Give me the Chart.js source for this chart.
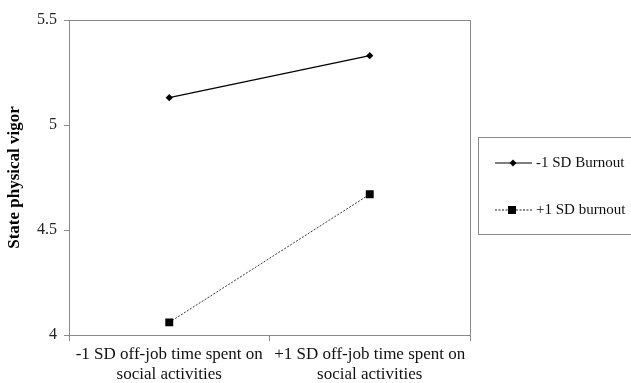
<!DOCTYPE html>
<html><head><meta charset="utf-8">
<script src="https://cdn.jsdelivr.net/npm/chart.js@4/dist/chart.umd.min.js"></script>
<style>html,body{margin:0;padding:0;background:#fff}#wrap{width:631px;height:383px}</style>
</head><body><div id="wrap"><canvas id="c" width="631" height="383"></canvas></div>
<script>
const categories = [['-1 SD off-job time spent on','social activities'],['+1 SD off-job time spent on','social activities']];
const seriesNames = ['-1 SD Burnout','+1 SD burnout'];
const lowBurnout = [5.13, 5.33];
const highBurnout = [4.06, 4.67];
const yTicks = [4, 4.5, 5, 5.5];
const yTitle = 'State physical vigor';

const serif = '"Liberation Serif", "Times New Roman", serif';
const axisGray = '#8a8a8a';

const frame = {
  id: 'frame',
  afterDraw(chart) {
    const {ctx, chartArea: a} = chart;
    ctx.save();
    ctx.strokeStyle = axisGray; ctx.lineWidth = 1;
    ctx.strokeRect(Math.round(a.left)+0.5, Math.round(a.top)+0.5, Math.round(a.right-a.left), Math.round(a.bottom-a.top));
    // legend box
    const bx = 478, by = 137, bw = 160, bh = 97;
    ctx.strokeRect(bx+0.5, by+0.5, bw, bh);
    const ds = chart.data.datasets;
    const rows = [163, 210];
    ds.forEach((d, i) => {
      const y = rows[i];
      ctx.strokeStyle = '#000';
      ctx.lineWidth = i === 0 ? 1.2 : 0.9;
      ctx.setLineDash(i === 0 ? [] : [2, 1.5]);
      ctx.beginPath(); ctx.moveTo(495, y); ctx.lineTo(532, y); ctx.stroke();
      ctx.setLineDash([]);
      ctx.fillStyle = '#000';
      if (i === 0) {
        ctx.beginPath(); ctx.moveTo(513, y-3.5); ctx.lineTo(516.5, y); ctx.lineTo(513, y+3.5); ctx.lineTo(509.5, y); ctx.closePath(); ctx.fill();
      } else {
        ctx.fillRect(508, y-4, 8, 8);
      }
      ctx.font = '15px ' + serif;
      ctx.textBaseline = 'middle';
      ctx.fillStyle = '#111';
      ctx.fillText(d.label, 536, y);
    });
    ctx.restore();
  }
};

new Chart(document.getElementById('c'), {
  type: 'line',
  data: {
    labels: categories,
    datasets: [
      {label: seriesNames[0], data: lowBurnout, borderColor: '#000', backgroundColor: '#000', borderWidth: 1.2,
       pointStyle: 'rectRot', pointRadius: 3.6, pointBorderWidth: 0, fill: false, tension: 0},
      {label: seriesNames[1], data: highBurnout, borderColor: '#222', backgroundColor: '#000', borderWidth: 0.9, borderDash: [2, 1.5],
       pointStyle: 'rect', pointRadius: 5.6, pointBorderWidth: 0, fill: false, tension: 0}
    ]
  },
  options: {
    responsive: false, animation: false, devicePixelRatio: 1,
    layout: {padding: {left: 0, top: 20, right: 161, bottom: 0}},
    plugins: {legend: {display: false}, tooltip: {enabled: false}},
    scales: {
      x: {
        offset: true,
        grid: {offset: true, drawOnChartArea: false, color: axisGray, tickLength: 6, tickColor: axisGray},
        border: {color: axisGray},
        ticks: {color: '#111', font: {family: serif, size: 17, lineHeight: 1.2}, maxRotation: 0, padding: 3},
        afterFit(s) { s.height = 48; }
      },
      y: {
        min: 4, max: 5.5,
        afterBuildTicks(s) { s.ticks = yTicks.map(v => ({value: v})); },
        grid: {drawOnChartArea: false, color: axisGray, tickLength: 5, tickColor: axisGray},
        border: {color: axisGray},
        ticks: {color: '#222', font: {family: serif, size: 16}, padding: 7, callback: v => String(v)},
        title: {display: true, text: yTitle, color: '#000', font: {family: serif, size: 17, weight: 'bold'}, padding: {top: 4, bottom: 0}},
        afterFit(s) { s.width = 69; }
      }
    }
  },
  plugins: [frame]
});
</script></body></html>
